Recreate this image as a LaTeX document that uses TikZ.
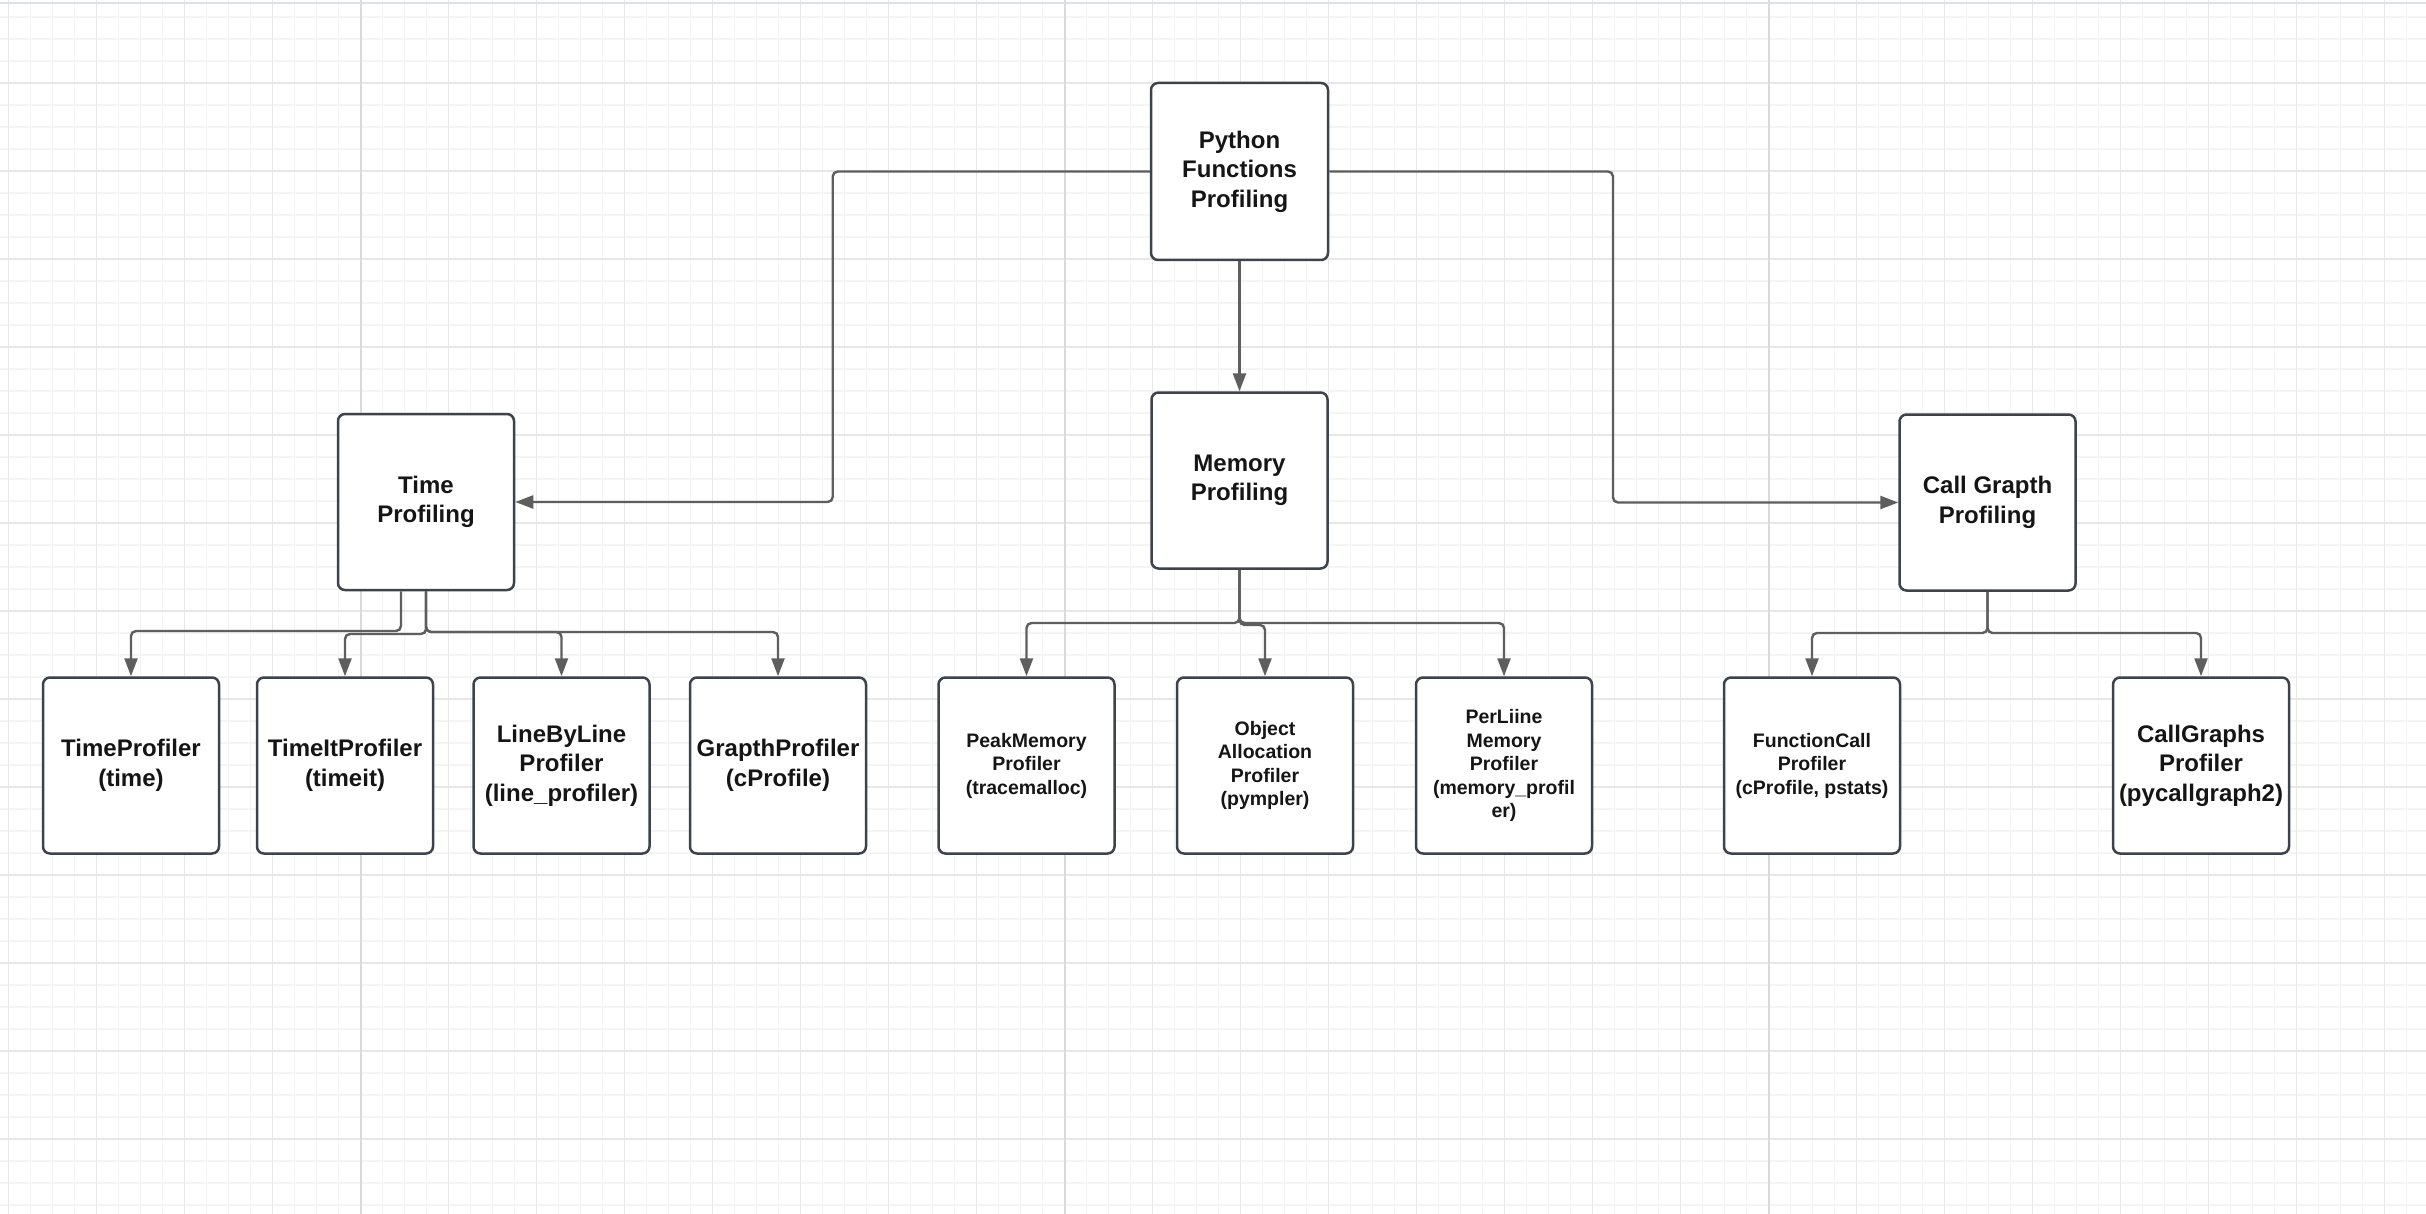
\documentclass[tikz,border=0pt]{standalone}
\usepackage{fontspec}
\setmainfont{Liberation Sans}
\usetikzlibrary{arrows.meta,calc}

\definecolor{gridminor}{HTML}{F4F4F4}
\definecolor{gridmajor}{HTML}{E7E7E7}
\definecolor{gridbold}{HTML}{DADADA}
\definecolor{topline}{HTML}{DCE1E7}
\definecolor{boxline}{HTML}{3D424B}
\definecolor{wire}{HTML}{5E5E5E}
\definecolor{ink}{HTML}{151515}

\begin{document}
\begin{tikzpicture}[x=0.5pt,y=-0.5pt,
  box/.style={draw=boxline,line width=1.25pt,fill=white,rounded corners=3.5pt,
    minimum width=88pt,minimum height=88pt,inner sep=0pt,align=center,text=ink,
    font=\bfseries\fontsize{12}{14.75}\selectfont},
  smallbox/.style={box,font=\bfseries\fontsize{9.75}{11.75}\selectfont},
  conn/.style={draw=wire,line width=1.2pt,rounded corners=2.5pt,
    -{Triangle[width=6.5pt,length=9pt]}}
]
% page and background
\useasboundingbox (0,0) rectangle (2426,1214);
\fill[white] (0,0) rectangle (2426,1214);

% background grid
\foreach \k in {0,...,110}
  \draw[gridminor,line width=0.6pt] ({8.7+22*\k},0) -- ({8.7+22*\k},1214);
\foreach \k in {0,...,54}
  \draw[gridminor,line width=0.6pt] (0,{17+22*\k}) -- (2426,{17+22*\k});
\foreach \k in {0,...,27}
  \draw[gridmajor,line width=0.7pt] ({8.7+88*\k},0) -- ({8.7+88*\k},1214);
\foreach \k in {0,...,12}
  \draw[gridmajor,line width=0.7pt] (0,{83+88*\k}) -- (2426,{83+88*\k});
\foreach \k in {0,1,2}
  \draw[gridbold,line width=0.8pt] ({360.7+704*\k},0) -- ({360.7+704*\k},1214);
\draw[topline,line width=1pt] (0,3) -- (2426,3);

% root
\node[box,minimum height=88.5pt,minimum width=88.5pt] (py) at (1239.5,171.5) {Python\\Functions\\Profiling};

% categories
\node[box] (time) at (426,502) {Time\\Profiling};
\node[box] (mem)  at (1239.5,480.5) {Memory\\Profiling};
\node[box] (call) at (1987.5,502.5) {Call Grapth\\Profiling};

% time profilers
\node[box] (tp1) at (131,765.5)   {TimeProfiler\\(time)};
\node[box] (tp2) at (345,765.5)   {TimeItProfiler\\(timeit)};
\node[box] (tp3) at (561.5,765.5) {LineByLine\\Profiler\\(line\_profiler)};
\node[box] (tp4) at (778,765.5)   {GrapthProfiler\\(cProfile)};

% memory profilers
\node[smallbox] (m1) at (1026.5,765.5) {PeakMemory\\Profiler\\(tracemalloc)};
\node[smallbox] (m2) at (1265,765.5)   {Object\\Allocation\\Profiler\\(pympler)};
\node[smallbox] (m3) at (1504,765.5)   {PerLiine\\Memory\\Profiler\\(memory\_profil\\er)};

% call graph profilers
\node[smallbox] (c1) at (1812,765.5) {FunctionCall\\Profiler\\(cProfile, pstats)};
\node[box]      (c2) at (2201,765.5) {CallGraphs\\Profiler\\(pycallgraph2)};

% root to categories
\coordinate (lbend) at (832.7,172);
\coordinate (rbend) at (1613,172);
\draw[conn] (py.west) -- (py.west -| lbend) |- (time.east);
\draw[conn] (py.east) -- (py.east -| rbend) |- (call.west);
\draw[conn] (py.south) -- (mem.north);

% time branch
\coordinate (tstub) at ([xshift=-12.5pt]time.south);
\coordinate (tbusA) at (0,631);
\coordinate (tbusB) at (0,634);
\coordinate (tbusC) at (0,632);
\draw[conn] (tstub) -- (tstub |- tbusA) -| (tp1.north);
\draw[conn] (time.south) -- (time.south |- tbusB) -| (tp2.north);
\draw[conn] (time.south) -- (time.south |- tbusC) -| (tp3.north);
\draw[conn] (time.south) -- (time.south |- tbusC) -| (tp4.north);

% memory branch
\coordinate (mbusA) at (0,623);
\coordinate (mbusB) at (0,625);
\draw[conn] (mem.south) -- (mem.south |- mbusA) -| (m1.north);
\draw[conn] (mem.south) -- (mem.south |- mbusB) -| (m2.north);
\draw[conn] (mem.south) -- (mem.south |- mbusA) -| (m3.north);

% call graph branch
\coordinate (cbus) at (0,633);
\draw[conn] (call.south) -- (call.south |- cbus) -| (c1.north);
\draw[conn] (call.south) -- (call.south |- cbus) -| (c2.north);
\end{tikzpicture}
\end{document}
